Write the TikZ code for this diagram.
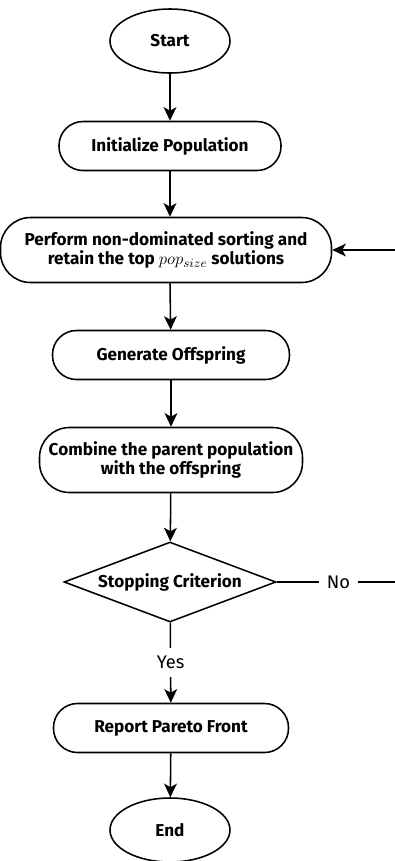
\documentclass[tikz,border=0pt]{standalone}
\usepackage{fontspec}
\usepackage{amsmath}
\setmainfont{Fira Sans}
\usepackage{tikz}
\usetikzlibrary{shapes.geometric}
\usetikzlibrary{arrows.meta}

\begin{document}
\begin{tikzpicture}[
        every node/.style={font=\fontsize{13}{15}\selectfont},
        terminal/.style={draw, ellipse, line width=1.1pt, minimum width=3.0cm, minimum height=1.6cm, font=\bfseries\fontsize{12.2}{14}\selectfont},
        stepbox/.style={draw, rounded corners=0.6cm, line width=1.1pt, align=center, font=\bfseries\fontsize{12.2}{14}\selectfont},
        decision/.style={draw, diamond, aspect=2.65, line width=1.1pt, inner sep=0pt, minimum width=5.3cm, minimum height=2.0cm, font=\bfseries\fontsize{12.2}{14}\selectfont},
        flow/.style={line width=1.1pt, -{Stealth[length=3.4mm, width=3.2mm, inset=0.9mm]}}
    ]
        % Page size of the reference
        \useasboundingbox (0,0) rectangle (9.875,-21.525);

        % Boxes of the flow chart
        \node[terminal] (start) at (4.25,-1.025) {Start};
        \node[stepbox, minimum width=5.55cm, minimum height=1.225cm] (init) at (4.25,-3.65) {Initialize Population};
        \node[stepbox, minimum width=8.275cm, minimum height=1.625cm, rounded corners=0.75cm] (sort) at (4.15,-6.25)
            {Perform non-dominated sorting and\\retain the top $pop_{size}$ solutions};
        \node[stepbox, minimum width=5.925cm, minimum height=1.225cm] (offspring) at (4.275,-8.875) {Generate Offspring};
        \node[stepbox, minimum width=6.575cm, minimum height=1.625cm, rounded corners=0.75cm] (combine) at (4.275,-11.5)
            {Combine the parent population\\with the offspring};
        \node[decision] (stop) at (4.25,-14.55) {Stopping Criterion};
        \node[stepbox, minimum width=5.875cm, minimum height=1.225cm] (report) at (4.275,-18.2) {Report Pareto Front};
        \node[terminal] (end) at (4.25,-20.75) {End};

        % Arrows going down
        \draw[flow] (start) -- (init);
        \draw[flow] (init) -- (init |- sort.north);
        \draw[flow] (init |- sort.south) -- (offspring);
        \draw[flow] (offspring) -- (combine);
        \draw[flow] (combine) -- (stop);
        \draw[flow] (stop) -- node[fill=white, inner ysep=0.2cm] {Yes} (report);
        \draw[flow] (report) -- (end);

        % Back to the sorting step
        \coordinate (loop) at (10.0,-14.55);
        \draw[flow] (stop.east) -- node[fill=white, inner xsep=0.2cm] {No} (loop) |- (sort.east);
\end{tikzpicture}
\end{document}
